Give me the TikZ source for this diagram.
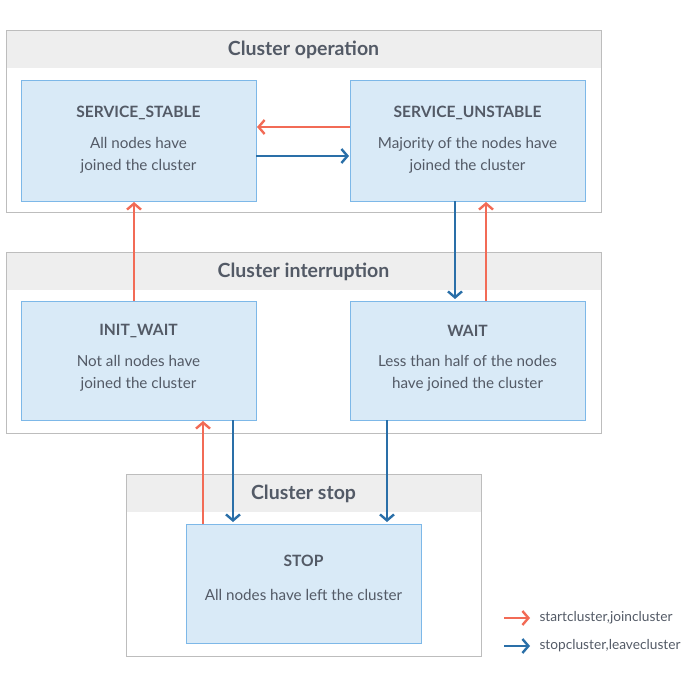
\documentclass[tikz,border=0pt]{standalone}
\usepackage{fontspec}
\setmainfont{Lato}
\usetikzlibrary{arrows.meta}
\definecolor{rd}{HTML}{F26B56}
\definecolor{bl}{HTML}{2A6FA8}
\definecolor{nf}{HTML}{D9EAF7}
\definecolor{nb}{HTML}{7DB8E8}
\definecolor{tx}{HTML}{535A66}
\definecolor{gb}{HTML}{BDBDBD}
\definecolor{gh}{HTML}{EEEEEE}
\begin{document}
\begin{tikzpicture}[x=1pt,y=-1pt,
  grp/.style={draw=gb,line width=0.8pt},
  hdr/.style={fill=gh},
  gt/.style={text=tx,font=\fontsize{19.5}{22}\selectfont\bfseries},
  st/.style={draw=nb,fill=nf,line width=0.8pt},
  tt/.style={text=tx,font=\fontsize{15.6}{18}\selectfont\bfseries},
  bt/.style={text=tx,font=\fontsize{15.2}{22}\selectfont,align=center},
  ra/.style={draw=rd,line width=2.4pt,-{Straight Barb[length=6pt,width=14pt]}},
  ba/.style={draw=bl,line width=2.4pt,-{Straight Barb[length=6pt,width=14pt]}},
  lt/.style={text=tx,font=\fontsize{13.7}{15}\selectfont,anchor=west}]
\useasboundingbox (0,0) rectangle (685,685);
% groups
\fill[hdr] (6,30) rectangle (601,68);
\draw[grp] (6,30) rectangle (601,212);
\node[gt] (g1) at (303.5,50) {Cluster operation};
\fill[hdr] (6,252) rectangle (601,290);
\draw[grp] (6,252) rectangle (601,433);
\node[gt] (g2) at (303.5,272) {Cluster interruption};
\fill[hdr] (126,474) rectangle (481,512);
\draw[grp] (126,474) rectangle (481,656);
\node[gt] (g3) at (303.5,494) {Cluster stop};
% states
\draw[st] (21,80) rectangle (256,201);
\node[tt] (ssT) at (138.5,113) {SERVICE\_STABLE};
\node[bt] (ssB) at (138.5,155) {All nodes have\\joined the cluster};
\draw[st] (350,80) rectangle (585,201);
\node[tt] (usT) at (467.5,113) {SERVICE\_UNSTABLE};
\node[bt] (usB) at (467.5,155) {Majority of the nodes have\\joined the cluster};
\draw[st] (21,301) rectangle (256,420);
\node[tt] (iwT) at (138.5,331) {INIT\_WAIT};
\node[bt] (iwB) at (138.5,373) {Not all nodes have\\joined the cluster};
\draw[st] (350,301) rectangle (585,420);
\node[tt] (wT) at (467.5,331) {WAIT};
\node[bt] (wB) at (467.5,373) {Less than half of the nodes\\have joined the cluster};
\draw[st] (186,524) rectangle (421,643);
\node[tt] (sT) at (303.5,561) {STOP};
\node[bt] (sB) at (303.5,595) {All nodes have left the cluster};
% connectors
\coordinate (a1) at (350,127); \coordinate (a2) at (257,127);
\draw[ra] (a1) -- (a2);
\coordinate (b1) at (256,156); \coordinate (b2) at (349,156);
\draw[ba] (b1) -- (b2);
\coordinate (c1) at (134,301); \coordinate (c2) at (134,202);
\draw[ra] (c1) -- (c2);
\coordinate (d1) at (455,201); \coordinate (d2) at (455,299);
\draw[ba] (d1) -- (d2);
\coordinate (e1) at (486,301); \coordinate (e2) at (486,202);
\draw[ra] (e1) -- (e2);
\coordinate (f1) at (203,524); \coordinate (f2) at (203,421);
\draw[ra] (f1) -- (f2);
\coordinate (h1) at (233,420); \coordinate (h2) at (233,522);
\draw[ba] (h1) -- (h2);
\coordinate (k1) at (387,420); \coordinate (k2) at (387,522);
\draw[ba] (k1) -- (k2);
% legend
\coordinate (l1) at (504,618); \coordinate (l2) at (530,618);
\draw[ra] (l1) -- (l2);
\node[lt] (lr) at (536,618) {startcluster,joincluster};
\coordinate (m1) at (504,646); \coordinate (m2) at (530,646);
\draw[ba] (m1) -- (m2);
\node[lt] (lb) at (536,646) {stopcluster,leavecluster};
\end{tikzpicture}
\end{document}
